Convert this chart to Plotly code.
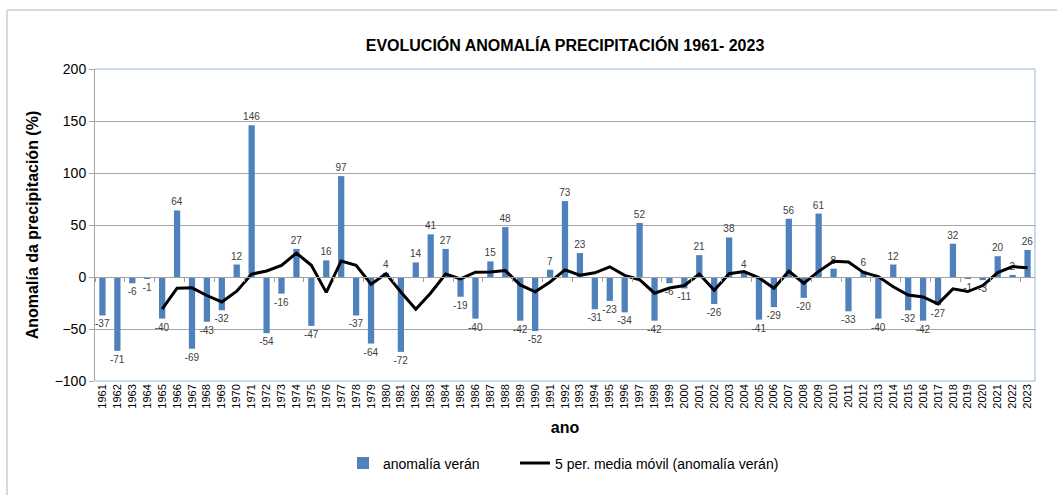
import plotly.graph_objects as go

years = [str(y) for y in range(1961, 2024)]
anomalia = [-37, -71, -6, -1, -40, 64, -69, -43, -32, 12,
            146, -54, -16, 27, -47, 16, 97, -37, -64, 4,
            -72, 14, 41, 27, -19, -40, 15, 48, -42, -52,
            7, 73, 23, -31, -23, -34, 52, -42, -6, -11,
            21, -26, 38, 4, -41, -29, 56, -20, 61, 8,
            -33, 6, -40, 12, -32, -42, -27, 32, -1, -3,
            20, 2, 26]
# 5-period moving average (as plotted, starting 1965)
ma_years = years[4:]
media_movil = [-31.0, -10.8, -10.4, -17.8, -24.0, -13.6, 2.8, 5.8, 11.2, 23.0,
               11.2, -14.8, 15.4, 11.2, -7.0, 3.2, -14.4, -31.0, -15.4, 2.8,
               -1.8, 4.6, 4.8, 6.2, -7.6, -14.2, -4.8, 6.8, 1.8, 4.0,
               9.8, 1.6, -2.6, -15.6, -10.6, -8.2, 2.8, -12.8, 3.2, 5.2,
               -0.8, -10.8, 5.6, -6.0, 5.4, 15.2, 14.4, 4.4, 0.4, -9.4,
               -17.4, -19.2, -25.8, -11.4, -14.0, -8.2, 4.2, 10.0, 8.8]

FONT = "Liberation Sans, Arial, sans-serif"

fig = go.Figure()
fig.add_trace(go.Bar(
    x=years, y=anomalia, name="anomalía verán",
    marker=dict(color="#4F81BD", line=dict(width=0)),
    width=0.42,
    text=[str(v) for v in anomalia], textposition="outside",
    constraintext="none",
    textfont=dict(size=10, color="#404040", family=FONT),
    cliponaxis=False,
    legend="legend",
))
fig.add_trace(go.Scatter(
    x=ma_years, y=media_movil, mode="lines",
    name="5 per. media móvil (anomalía verán)",
    line=dict(color="black", width=3),
    xaxis="x2",
    legend="legend2",
))

legend_common = dict(orientation="h", xanchor="left", y=-0.213, yanchor="top",
                     font=dict(size=14, color="#000000", family=FONT),
                     itemwidth=30, bgcolor="rgba(0,0,0,0)")

fig.update_layout(
    width=1057, height=495,
    margin=dict(l=95, r=22, t=69, b=114),
    paper_bgcolor="white", plot_bgcolor="white",
    font=dict(family=FONT, color="#000000"),
    title=dict(text="<b>EVOLUCIÓN ANOMALÍA PRECIPITACIÓN 1961- 2023</b>",
               x=0.5, xref="paper", xanchor="center",
               y=1 - 45 / 495, yref="container", yanchor="middle",
               font=dict(size=16, color="#000000", family=FONT)),
    bargap=0.5,
    showlegend=True,
    legend=dict(x=(343 - 95) / 940, **legend_common),
    legend2=dict(x=(515 - 95) / 940, **legend_common),
    xaxis=dict(
        type="category", categoryorder="array", categoryarray=years,
        range=[-0.5, len(years) - 0.5],
        tickangle=-90, tickfont=dict(size=11, color="#000000"),
        ticks="", showgrid=False, showline=False, zeroline=False,
        title=dict(text="<b>ano</b>", font=dict(size=16, color="#000000"), standoff=14),
    ),
    xaxis2=dict(
        type="category", categoryorder="array", categoryarray=years,
        matches="x", overlaying="x", anchor="free", position=1/3,
        showticklabels=False, ticks="outside", tickson="boundaries",
        ticklen=4, tickcolor="#A0A0A0", showline=True, linecolor="#A0A0A0",
        linewidth=1, showgrid=False, zeroline=False,
    ),
    yaxis=dict(
        range=[-100, 200], dtick=50, tick0=0,
        showgrid=True, gridcolor="#A6A6A6", gridwidth=1,
        zeroline=False, showline=True, linecolor="#A6A6A6", linewidth=1,
        ticks="outside", ticklen=5, tickcolor="#A6A6A6",
        tickfont=dict(size=14, color="#000000"),
        title=dict(text="<b>Anomalía da precipitación (%)</b>",
                   font=dict(size=16, color="#000000"), standoff=12),
    ),
    shapes=[
        dict(type="line", xref="paper", yref="paper", x0=0, x1=1, y0=1, y1=1,
             line=dict(color="#95B3D7", width=1)),
        dict(type="line", xref="paper", yref="paper", x0=1, x1=1, y0=0, y1=1,
             line=dict(color="#95B3D7", width=1)),
        dict(type="line", xref="paper", yref="paper", x0=0, x1=1, y0=0, y1=0,
             line=dict(color="#95B3D7", width=1)),
        dict(type="line", xref="paper", yref="paper",
             x0=(7 - 95) / 940, x1=(1057 - 95) / 940,
             y0=(381 - 10) / 312, y1=(381 - 10) / 312,
             line=dict(color="#D9D9D9", width=2)),
        dict(type="line", xref="paper", yref="paper",
             x0=(7 - 95) / 940, x1=(7 - 95) / 940,
             y0=(381 - 10) / 312, y1=(381 - 495) / 312,
             line=dict(color="#D9D9D9", width=2)),
    ],
)

fig.write_html("out.html", config={"displayModeBar": False},
               post_script="document.body.style.margin='0';document.body.style.overflow='hidden';")
